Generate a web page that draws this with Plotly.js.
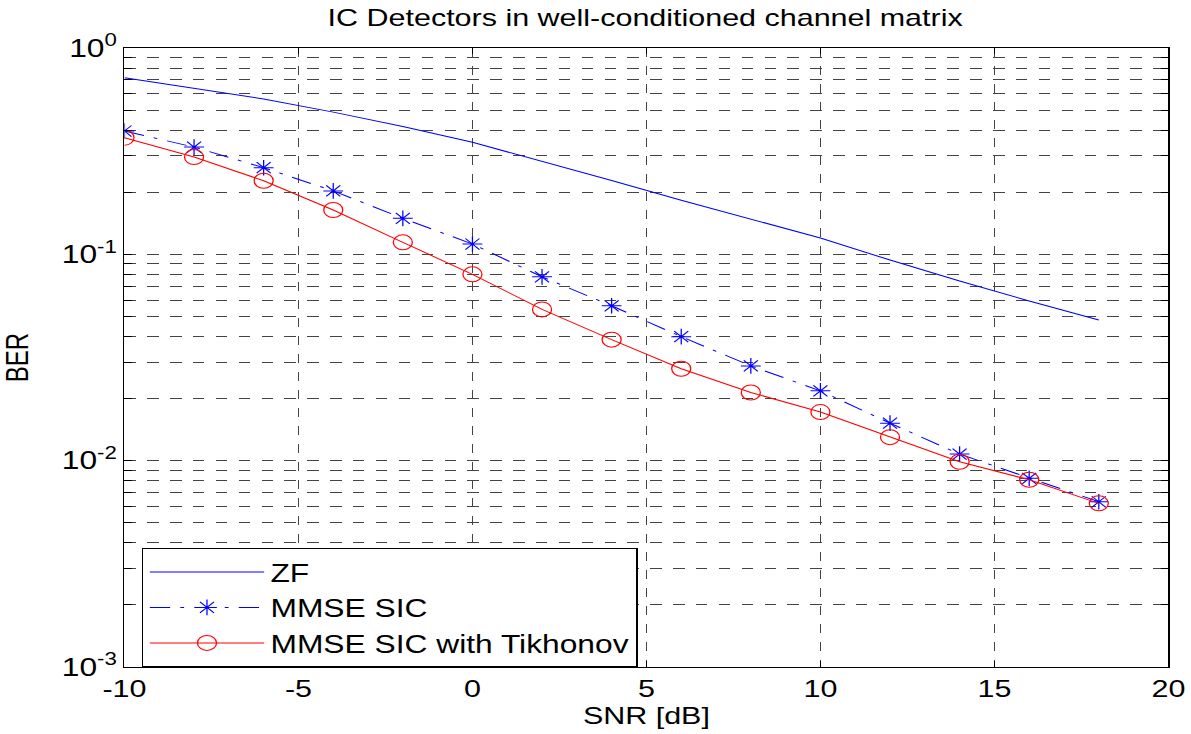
<!DOCTYPE html>
<html><head><meta charset="utf-8">
<script src="https://cdn.plot.ly/plotly-3.0.1.min.js"></script>
<style>
html,body{margin:0;padding:0;background:#fff;overflow:hidden}
#wrap{width:1191px;height:734px;overflow:hidden}
#chart{width:938px;height:734px;transform:scale(1.27,1);transform-origin:0 0}
</style>
</head><body><div id="wrap"><div id="chart"></div></div>
<script>
const snr = [-10,-8,-6,-4,-2,0,2,4,6,8,10,12,14,16,18];
const berZF = [0.718,0.640,0.566,0.489,0.416,0.349,0.283,0.228,0.183,0.148,0.120,0.0938,0.0742,0.0594,0.0481];
const berMMSE = [0.396,0.331,0.263,0.203,0.1494,0.1122,0.0778,0.0563,0.0399,0.0288,0.0218,0.0152,0.01076,0.00821,0.00632];
const berTik = [0.3675,0.296,0.2274,0.164,0.1143,0.080,0.0541,0.0386,0.0279,0.0214,0.0172,0.0130,0.00988,0.00808,0.00621];
const xTicks = [-10,-5,0,5,10,15,20];
const decades = [-3,-2,-1,0];

const yTickVals = [], yTickText = [];
decades.forEach(function(d){
  for (let m = 1; m <= 9; m++) {
    if (d === 0 && m > 1) break;
    yTickVals.push(m * Math.pow(10, d));
    yTickText.push(m === 1 ? '10<sup>' + d + '</sup>' : '');
  }
});

const font = 'Liberation Sans, Arial, sans-serif';
const traces = [
  {x: snr, y: berZF, name: 'ZF', mode: 'lines', line: {color: '#0000ff', width: 1}, legendgroup: 'a'},
  {x: snr, y: berMMSE, name: 'MMSE SIC', mode: 'lines+markers', legendgroup: 'b',
   line: {color: '#0000ff', width: 1, dash: '16px,8px,3px,8px'},
   marker: {symbol: 'asterisk-open', size: 13, color: '#0000ff', line: {color: '#0000ff', width: 1}}},
  {x: snr, y: berTik, name: 'MMSE SIC with Tikhonov', mode: 'lines+markers', legendgroup: 'c',
   line: {color: '#ff0000', width: 1},
   marker: {symbol: 'circle-open', size: 15, color: '#ff0000', line: {color: '#ff0000', width: 1}}}
];

const layout = {
  width: 938, height: 734,
  margin: {l: 98.4, r: 18.3, t: 48, b: 67},
  paper_bgcolor: '#fff', plot_bgcolor: '#fff',
  font: {family: font, color: '#000', size: 24},
  title: {text: 'IC Detectors in well-conditioned channel matrix', x: 645 / 1191, xanchor: 'center', xref: 'container', yref: 'container', y: 1 - 18/734, yanchor: 'middle', font: {size: 24, family: font}},
  showlegend: true,
  legend: {x: 0.017, y: 0.192, xanchor: 'left', yanchor: 'top', bgcolor: '#fff', bordercolor: '#000', borderwidth: 1, font: {size: 25, family: font}, itemwidth: 90, tracegroupgap: 5, traceorder: 'normal'},
  xaxis: {
    range: [-10, 20], tickvals: xTicks, ticktext: xTicks.map(String),
    showline: true, linecolor: '#000', linewidth: 1, mirror: 'ticks',
    ticks: 'inside', ticklen: 6, tickcolor: '#000',
    showgrid: true, gridcolor: '#444', griddash: 'dash', gridwidth: 1,
    zeroline: false, tickfont: {size: 24, family: font},
    title: {text: 'SNR [dB]', font: {size: 24, family: font}, standoff: 6}
  },
  yaxis: {
    type: 'log', range: [-3, 0], tickvals: yTickVals, ticktext: yTickText,
    showline: true, linecolor: '#000', linewidth: 1, mirror: 'ticks',
    ticks: 'inside', ticklen: 6, tickcolor: '#000',
    showgrid: true, gridcolor: '#444', griddash: 'dash', gridwidth: 1,
    zeroline: false, tickfont: {size: 25, family: font},
    title: {text: 'BER', font: {size: 24, family: font}, standoff: 22}
  }
};
Plotly.newPlot('chart', traces, layout, {displayModeBar: false, staticPlot: true});
</script></body></html>
